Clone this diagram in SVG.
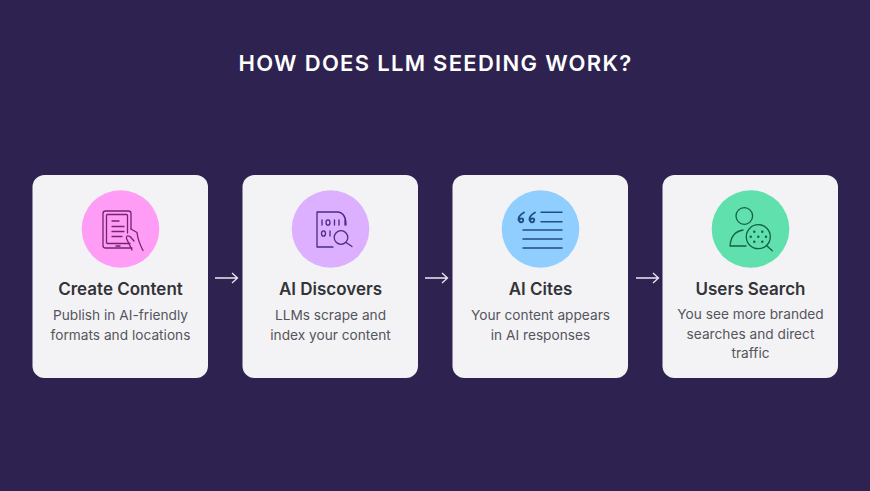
<svg xmlns="http://www.w3.org/2000/svg" width="870" height="491" viewBox="0 0 870 491">
<style>
text{font-family:Inter,"Liberation Sans",sans-serif;text-anchor:middle}
.t{font-size:17px;font-weight:600;fill:#333338}
.b{font-size:13.700px;fill:#55555c}
.card{fill:#f3f3f6}
.ic{fill:none;stroke-width:1.300;stroke-linecap:round;stroke-linejoin:round}
.arr{fill:none;stroke:#f0e6f0;stroke-width:1.300}
</style>
<rect width="870" height="491" fill="#2e2350"/>
<text x="435.500" y="71" style="font-size:22px;font-weight:600;letter-spacing:1.300px" fill="#fff">HOW DOES LLM SEEDING WORK?</text>
<g id="connectors" class="arr">
<path d="M215 278H237M232 273L237.500 278L232 283"/>
<path d="M425 278H447M442 273L447.500 278L442 283"/>
<path d="M636 278H658M653 273L658.500 278L653 283"/>
</g>
<g id="node1">
<rect class="card" x="32.500" y="175" width="175.500" height="203" rx="12"/>
<circle cx="120.500" cy="229" r="38.800" fill="#ff9cf5"/>
<g class="ic" stroke="#75246f">
<path d="M131 229V213.500Q131 211 128.500 211H105.500Q103 211 103 213.500V245.500Q103 248 105.500 248H132"/>
<path d="M127.500 233V215.500Q127.500 214.500 126.500 214.500H107.500Q106.500 214.500 106.500 215.500V242.500Q106.500 243.500 107.500 243.500H130"/>
<path d="M112 221H119M112 226.500H124M112 231.500H124M112 236.500H122M116 246H120"/>
<path d="M131 229L137 232.500Q138 241 143 250.500M134 241L130 236.500Q126 234.500 126.500 238.500L132 250"/>
</g>
<text class="t" x="120.500" y="295">Create Content</text>
<text class="b" x="120.500" y="320">Publish in AI-friendly</text>
<text class="b" x="120.500" y="340">formats and locations</text>
</g>
<g id="node2">
<rect class="card" x="242.500" y="175" width="175.500" height="203" rx="12"/>
<circle cx="330.500" cy="229" r="38.800" fill="#dcb0ff"/>
<g class="ic" stroke="#4a2a8a">
<path d="M333 247H317V212H338Q346 213 346 225"/>
<path d="M322 220V225M334.500 220V225M339 220V225M345 220V225M330 231V236"/>
<ellipse cx="328" cy="222.500" rx="2" ry="2.700"/>
<ellipse cx="323.500" cy="233.500" rx="2" ry="2.700"/>
<circle cx="341" cy="237.500" r="6.800"/>
<path d="M346 242.500L352 246.500"/>
</g>
<text class="t" x="330.500" y="295">AI Discovers</text>
<text class="b" x="330.500" y="320">LLMs scrape and</text>
<text class="b" x="330.500" y="340">index your content</text>
</g>
<g id="node3">
<rect class="card" x="452.500" y="175" width="175.500" height="203" rx="12"/>
<circle cx="540.500" cy="229" r="38.800" fill="#90ceff"/>
<g class="ic" stroke="#1f4e80" style="stroke-width:1.500">
<path d="M541 212.300H562M541 221.700H562M523 230H562M523 239H562M523 248H562"/>
<path d="M524 212.500Q518 216 518.500 220Q520 223 522.500 222Q524 220 522.500 218.500Q521 218 520 219" style="stroke-width:1.800"/>
<path d="M535 212.500Q529 216 529.500 220Q531 223 533.500 222Q535 220 533.500 218.500Q532 218 531 219" style="stroke-width:1.800"/>
</g>
<text class="t" x="540.500" y="295">AI Cites</text>
<text class="b" x="540.500" y="320">Your content appears</text>
<text class="b" x="540.500" y="340">in AI responses</text>
</g>
<g id="node4">
<rect class="card" x="662.500" y="175" width="175.500" height="203" rx="12"/>
<circle cx="750.500" cy="229" r="38.800" fill="#5fe0ac"/>
<g class="ic" stroke="#155e4a">
<circle cx="744.300" cy="216" r="8.300"/>
<path d="M743 230Q731 232 730 246H746"/>
<circle cx="758.300" cy="236.700" r="12"/>
<path d="M766.500 245.500L772.300 250.700"/>
</g>
<g fill="#155e4a">
<circle cx="754.300" cy="231.700" r="1.200"/><circle cx="762.300" cy="231.700" r="1.200"/>
<circle cx="750.700" cy="236.700" r="1.200"/><circle cx="758.300" cy="236.700" r="1.200"/><circle cx="766" cy="236.700" r="1.200"/>
<circle cx="754.300" cy="241.700" r="1.200"/><circle cx="762.300" cy="241.700" r="1.200"/>
</g>
<text class="t" x="750.500" y="295">Users Search</text>
<text class="b" x="750.500" y="319">You see more branded</text>
<text class="b" x="750.500" y="339">searches and direct</text>
<text class="b" x="750.500" y="358">traffic</text>
</g>
</svg>
